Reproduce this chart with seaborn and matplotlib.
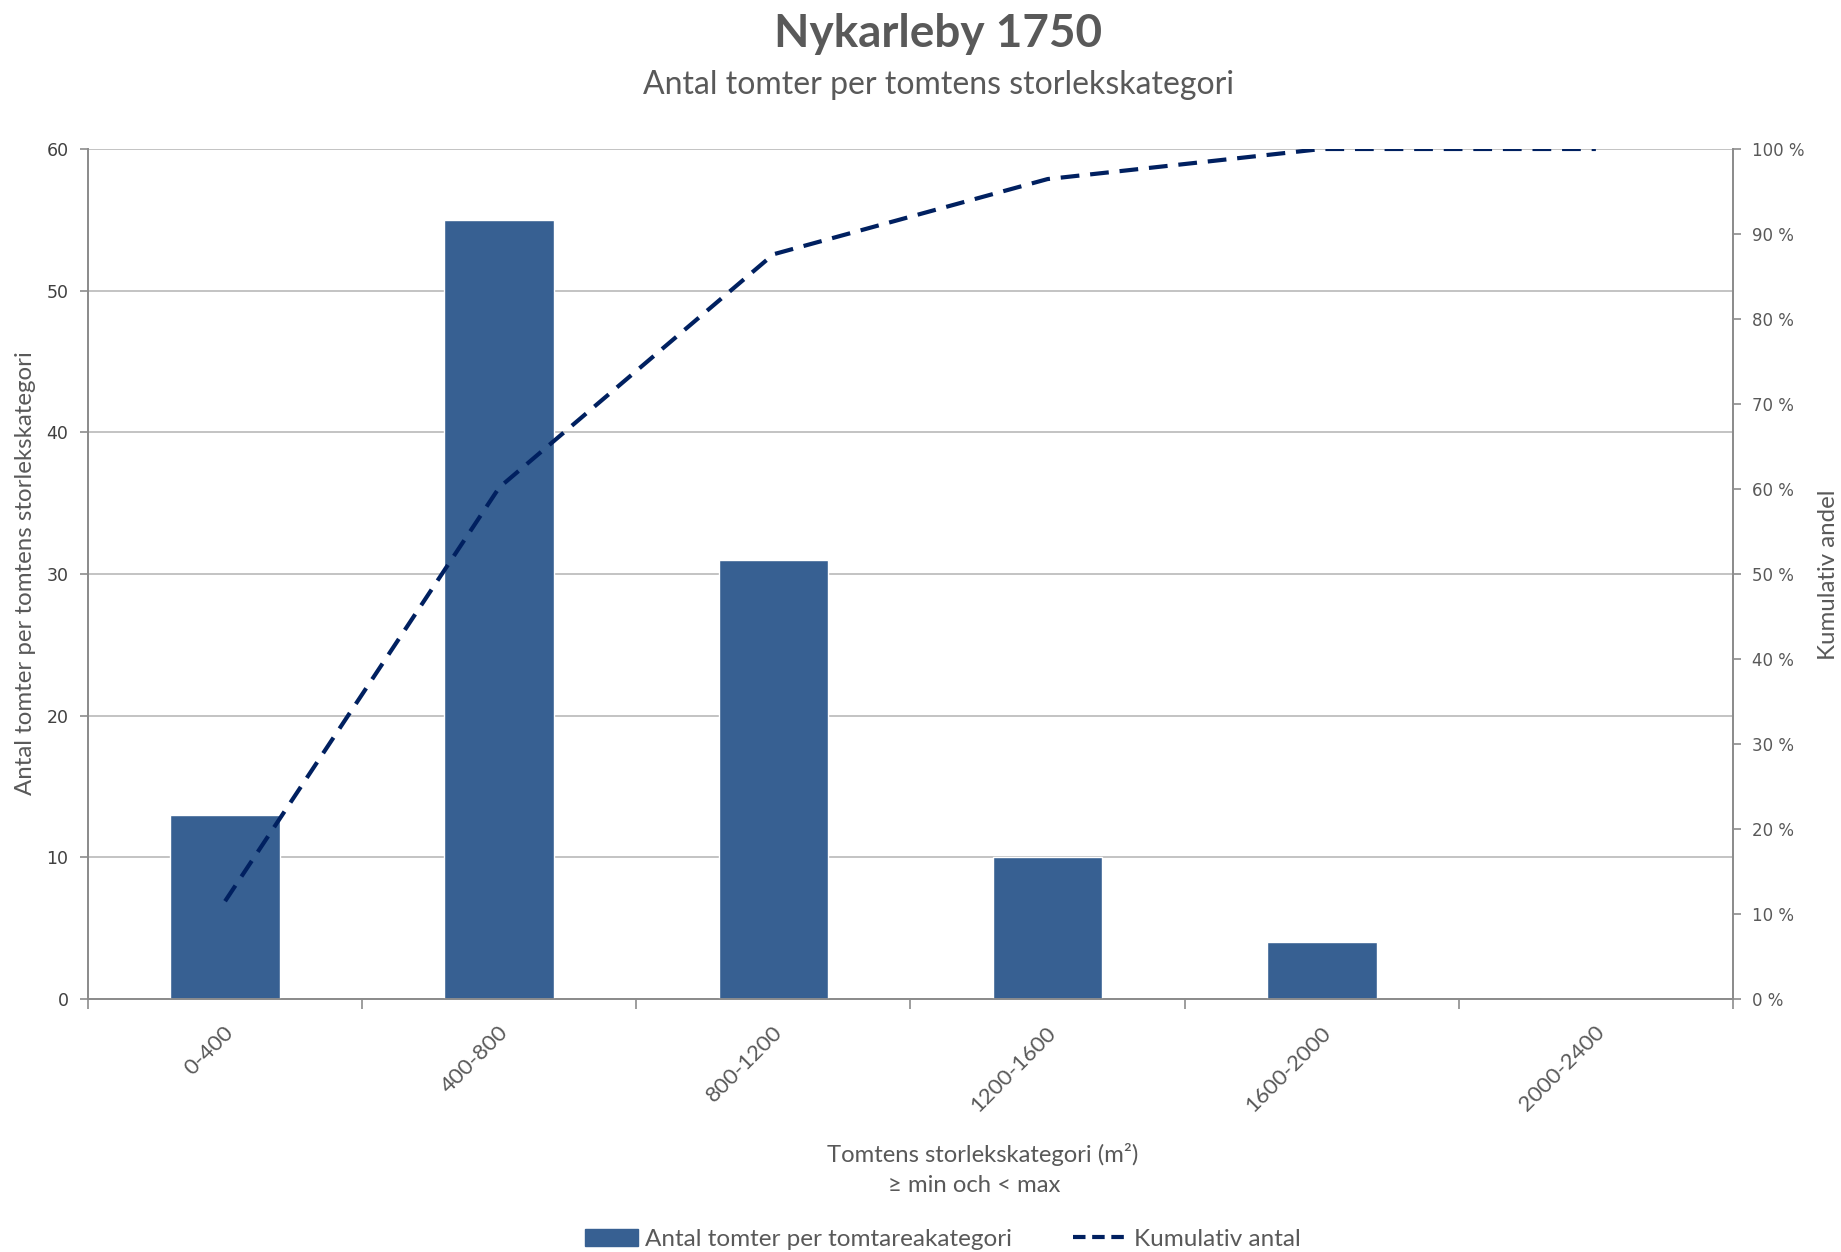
import numpy as np
import pandas as pd
import matplotlib
matplotlib.use("Agg")
import matplotlib.pyplot as plt
import seaborn as sns
from matplotlib.patches import Patch
from matplotlib.lines import Line2D
from matplotlib.ticker import FuncFormatter, MultipleLocator

categories = ["0-400", "400-800", "800-1200", "1200-1600", "1600-2000", "2000-2400"]
counts = [13, 55, 31, 10, 4, 0]
cumulative_share = [13/113, 68/113, 99/113, 109/113, 113/113, 113/113]

title = "Nykarleby 1750"
subtitle = "Antal tomter per tomtens storlekskategori"
xlabel_1 = "Tomtens storlekskategori (m²)"
xlabel_2 = "≥ min och < max"
ylabel_left = "Antal tomter per tomtens storlekskategori"
ylabel_right = "Kumulativ andel"
legend_bar = "Antal tomter per tomtareakategori"
legend_line = "Kumulativ antal"

bar_color = "#376092"
line_color = "#002060"
text_color = "#595959"
grid_color = "#b9b9b9"
axis_color = "#8c8c8c"

sns.set_theme(style="white")
plt.rcParams["font.family"] = ["Lato", "DejaVu Sans"]

df = pd.DataFrame({"cat": categories, "count": counts,
                   "pos": np.arange(len(categories)), "cum": cumulative_share})

fig = plt.figure(figsize=(18.41, 12.52), dpi=100)
ax = fig.add_axes([0.0478, 0.2021, 0.8935, 0.6789])

sns.barplot(data=df, x="cat", y="count", color=bar_color, saturation=1,
            width=0.4, ax=ax, zorder=3)
ax.set_xlim(-0.5, len(categories) - 0.5)
ax.set_ylim(0, 60)
ax.yaxis.set_major_locator(MultipleLocator(10))
ax.grid(axis="y", color=grid_color, linewidth=1.2, zorder=0)
ax.set_axisbelow(True)

ax2 = ax.twinx()
sns.lineplot(data=df, x="pos", y="cum", color=line_color, linewidth=3.0,
             ax=ax2, zorder=4)
ax2.lines[0].set_dashes((4.5, 2.6))
ax2.set_ylim(0, 1)
ax2.yaxis.set_major_locator(MultipleLocator(0.1))
ax2.yaxis.set_major_formatter(FuncFormatter(lambda v, p: f"{int(round(v*100))} %"))
ax.set_xlim(-0.5, len(categories) - 0.5)

# x ticks between categories, labels at centers
ax.set_xticks(np.arange(len(categories)))
ax.set_xticklabels([])
ax.set_xticks(np.arange(-0.5, len(categories)), minor=True)
ax.tick_params(axis="x", which="major", length=0)
ax.tick_params(axis="x", which="minor", length=7, width=1.2, color=axis_color, bottom=True, direction="out")
for i, c in enumerate(categories):
    ax.annotate(c, xy=(i, 0), xycoords=("data", "axes fraction"),
                xytext=(4, -22), textcoords="offset points",
                rotation=45, ha="right", va="center", rotation_mode="anchor",
                fontsize=16, color=text_color, family=["Lato", "DejaVu Sans"])

ax.tick_params(axis="y", left=True, length=6, width=1.2, color=axis_color,
               labelsize=12.5, labelcolor="#404040", pad=8, direction="out")
for lab in ax.get_yticklabels():
    lab.set_family("DejaVu Sans")
ax2.tick_params(axis="y", right=True, length=6, width=1.2, color=axis_color,
                labelsize=12, labelcolor=text_color, pad=8, direction="out")
for lab in ax2.get_yticklabels():
    lab.set_family("DejaVu Sans")

ax.set_xlabel("")
ax.set_ylabel("")
ax2.set_xlabel("")
ax2.set_ylabel("")

for a in (ax, ax2):
    a.spines["top"].set_visible(False)
    for s in ("left", "right", "bottom"):
        a.spines[s].set_color(axis_color)
        a.spines[s].set_linewidth(1.3)

fig.text(0.5096, 0.973, title, ha="center", va="center", fontsize=33,
         fontweight="bold", color=text_color)
fig.text(0.5096, 0.932, subtitle, ha="center", va="center", fontsize=23,
         color=text_color)
fig.text(0.534, 0.078, xlabel_1, ha="center", va="center", fontsize=17.2,
         color=text_color)
fig.text(0.529, 0.053, xlabel_2, ha="center", va="center", fontsize=17.2,
         color=text_color)
fig.text(0.014, 0.542, ylabel_left, ha="center", va="center", rotation=90,
         fontsize=17.3, color=text_color)
fig.text(0.993, 0.541, ylabel_right, ha="center", va="center", rotation=90,
         fontsize=17.3, color=text_color)

handles = [Patch(facecolor=bar_color, edgecolor=bar_color),
           Line2D([0], [0], color=line_color, linewidth=3.0, dashes=(3, 1.6))]
fig.legend(handles, [legend_bar, legend_line], loc="center",
           bbox_to_anchor=(0.512, 0.01), ncol=2, frameon=False,
           fontsize=17.5, labelcolor=text_color, handlelength=2.2,
           handletextpad=0.3, columnspacing=2.5)

fig.savefig("out.png", dpi=100)
